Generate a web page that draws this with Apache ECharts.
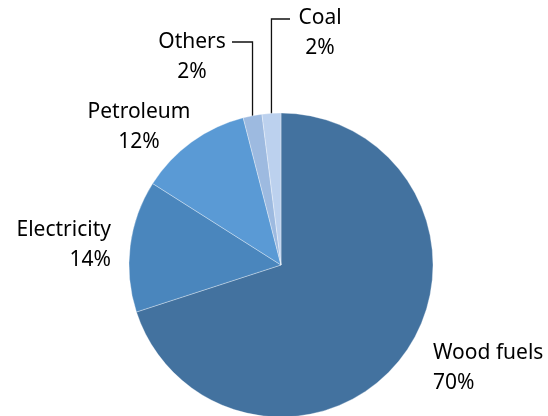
<!DOCTYPE html>
<html><head><meta charset="utf-8">
<script src="https://cdn.jsdelivr.net/npm/echarts@6/dist/echarts.min.js"></script>
<style>html,body{margin:0;padding:0;background:#fff}#c{width:548px;height:416px}</style>
</head><body><div id="c"></div>
<script>
const categories = ['Wood fuels', 'Electricity', 'Petroleum', 'Others', 'Coal'];
const shares = [70, 14, 12, 2, 2];
const colors = ['#43729f', '#4a86bd', '#5a9ad5', '#9dbae0', '#bcd1ee'];

// label anchor layout (positions only)
const labelPos = [
  {x: 433, y: 368, align: 'left'},
  {x: 111, y: 245, align: 'right'},
  {x: 139, y: 127, align: 'center'},
  {x: 192, y: 57, align: 'center'},
  {x: 320, y: 33, align: 'center'}
];
const leader = {3: {y: 42, x: 232}, 4: {y: 19, x: 290}};

const chart = echarts.init(document.getElementById('c'), null, {renderer: 'canvas'});
chart.setOption({
  animation: false,
  series: [{
    type: 'pie',
    center: [281, 265],
    radius: [0, 152],
    startAngle: 90,
    clockwise: true,
    avoidLabelOverlap: false,
    itemStyle: {borderColor: 'rgba(255,255,255,0.55)', borderWidth: 0.6},
    label: {
      show: true,
      formatter: p => p.name + '\n' + p.value + '%',
      fontFamily: 'Noto Sans',
      fontSize: 21,
      lineHeight: 30,
      color: '#000'
    },
    labelLine: {show: true, lineStyle: {color: '#111', width: 1.3}},
    labelLayout: function (params) {
      const i = params.dataIndex;
      const lp = labelPos[i];
      const res = {x: lp.x, y: lp.y, align: lp.align, verticalAlign: 'middle'};
      if (leader[i] && params.labelLinePoints) {
        const p0 = params.labelLinePoints[0];
        res.labelLinePoints = [[p0[0], p0[1] + 5], [p0[0], leader[i].y], [leader[i].x, leader[i].y]];
      }
      return res;
    },
    data: categories.map((c, i) => ({
      name: c,
      value: shares[i],
      itemStyle: {color: colors[i]},
      labelLine: {show: !!leader[i]}
    }))
  }]
});
</script></body></html>
